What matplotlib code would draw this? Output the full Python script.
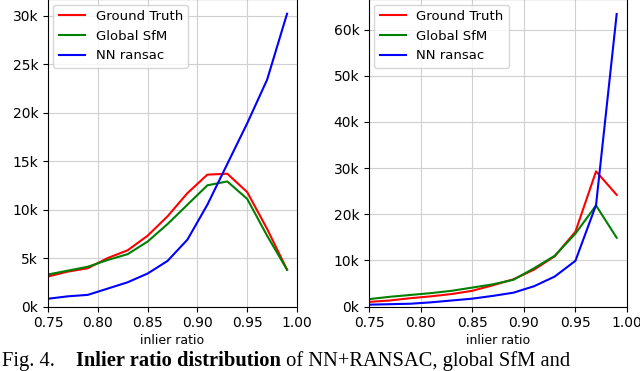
import matplotlib
matplotlib.use("Agg")
import matplotlib.pyplot as plt
from matplotlib.ticker import FuncFormatter

# inlier ratio bins
ratio = [0.75, 0.77, 0.79, 0.81, 0.83, 0.85, 0.87, 0.89, 0.91, 0.93, 0.95, 0.97, 0.99]

# left panel
gt_left = [3100, 3600, 3950, 5000, 5800, 7300, 9300, 11700, 13600, 13700, 11800, 8000, 3800]
sfm_left = [3300, 3700, 4100, 4800, 5400, 6700, 8500, 10500, 12500, 12900, 11100, 7300, 3800]
nn_left = [800, 1050, 1200, 1850, 2500, 3400, 4700, 6900, 10500, 14700, 18900, 23400, 30200]

# right panel
gt_right = [1000, 1300, 1800, 2200, 2700, 3400, 4600, 5900, 8000, 10900, 16200, 29300, 24200]
sfm_right = [1600, 2100, 2500, 2900, 3400, 4100, 4800, 5800, 8300, 11000, 15800, 21900, 14900]
nn_right = [400, 500, 600, 900, 1300, 1700, 2300, 3000, 4400, 6500, 9900, 22000, 63400]

xticks = [0.75, 0.80, 0.85, 0.90, 0.95, 1.00]

fig = plt.figure(figsize=(6.4, 3.71), dpi=100)
W, H = 640, 371

def panel(left, right, gt, sfm, nn):
    # top edge sits just above the picture, as in the cropped original
    ax = fig.add_axes([left / W, (H - 306.5) / H, (right - left) / W, 307 / H])
    ax.plot(ratio, gt, color="red", lw=1.5, label="Ground Truth")
    ax.plot(ratio, sfm, color="green", lw=1.5, label="Global SfM")
    ax.plot(ratio, nn, color="blue", lw=1.5, label="NN ransac")
    ax.set_xlim(0.75, 1.00)
    ax.set_ylim(bottom=0)
    ax.set_xticks(xticks)
    ax.yaxis.set_major_formatter(FuncFormatter(lambda v, p: "%dk" % round(v / 1000)))
    ax.tick_params(labelsize=10, length=3.5)
    ax.grid(True, color="#d0d0d0", lw=0.8)
    ax.set_axisbelow(True)
    ax.set_xlabel("inlier ratio", fontsize=9, labelpad=2.5)
    ax.legend(loc="upper left", fontsize=9.5, handlelength=2, borderpad=0.4,
              labelspacing=0.5, borderaxespad=0.4, framealpha=0.8)
    return ax

panel(48, 297, gt_left, sfm_left, nn_left)
panel(369, 627, gt_right, sfm_right, nn_right)

# caption, pieces placed one after another on a shared baseline
cap_y = (H - 366) / H
serif = "Liberation Serif"
t1 = fig.text(2 / W, cap_y, "Fig. 4.", family=serif, fontsize=14.8, va="baseline")
t2 = fig.text(76 / W, cap_y, "Inlier ratio distribution", family=serif,
              fontsize=14.8, weight="bold", va="baseline")
fig.canvas.draw()
r = fig.canvas.get_renderer()
x_end = t2.get_window_extent(r).x1
fig.text(x_end / W, cap_y, " of NN+RANSAC, global SfM and", family=serif,
         fontsize=14.8, va="baseline")

fig.savefig("out.png", dpi=100)
